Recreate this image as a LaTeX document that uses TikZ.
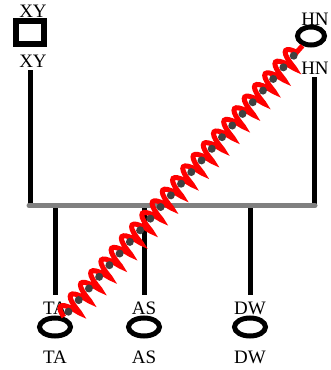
\documentclass[tikz,border=0pt]{standalone}
\usepackage{fontspec}
\setmainfont{Liberation Serif}
\usetikzlibrary{shapes.geometric,decorations.pathmorphing,decorations.markings}
\begin{document}
\begin{tikzpicture}[x=1pt,y=-1pt,
  lbl/.style={inner sep=0pt,font=\fontsize{19}{19}\selectfont},
  sq/.style={draw,line width=6pt,minimum width=28pt,minimum height=23pt,inner sep=0pt},
  ov/.style={draw,ellipse,line width=5pt,minimum width=31pt,minimum height=18pt,inner sep=0pt},
  link/.style={line width=5pt},
  bar/.style={line width=5pt,gray,line cap=round},
  dots/.style={decoration={markings,mark=between positions 7pt and -5pt step 15.5pt with {\fill[black!75] (0,0) circle (4pt);}},postaction={decorate}}]
\useasboundingbox (0,0) rectangle (330,370);
% parents
\node[sq] (xy) at (30,32) {};
\node[lbl] (xyt) at (33,11) {XY};
\node[lbl] (xyb) at (33,61) {XY};
\node[ov,minimum width=27pt] (hn) at (311,36) {};
\node[lbl] (hnt) at (315,19) {HN};
\node[lbl] (hnb) at (315,68) {HN};
% bar
\coordinate (bl) at (29,205.5);
\coordinate (br) at (315,205.5);
\coordinate (xyl) at (30,70);
\coordinate (xyl2) at (30,205.5);
\coordinate (hnl) at (314,77);
\coordinate (hnl2) at (314,205.5);
\draw[link] (xyl) -- (xyl2);
\draw[link] (hnl) -- (hnl2);
% children
\foreach \n/\t/\x in {ta/TA/55,as/AS/144,dw/DW/250}{
  \coordinate (\n top) at (\x,205.5);
  \coordinate (\n bot) at (\x,295);
  \draw[link] (\n top) -- (\n bot);
  \node[lbl] (\n t) at (\x,308) {\t};
  \node[ov] (\n) at (\x,327) {};
  \node[lbl] (\n b) at (\x,357) {\t};
}
\draw[bar] (bl) -- (br);
% coil
\draw[red,line width=5pt,decorate,decoration={coil,aspect=0.2,segment length=15.5pt,amplitude=9.5pt}] (ta) -- (hn);
\path[dots] (ta) -- (hn);
\end{tikzpicture}
\end{document}
